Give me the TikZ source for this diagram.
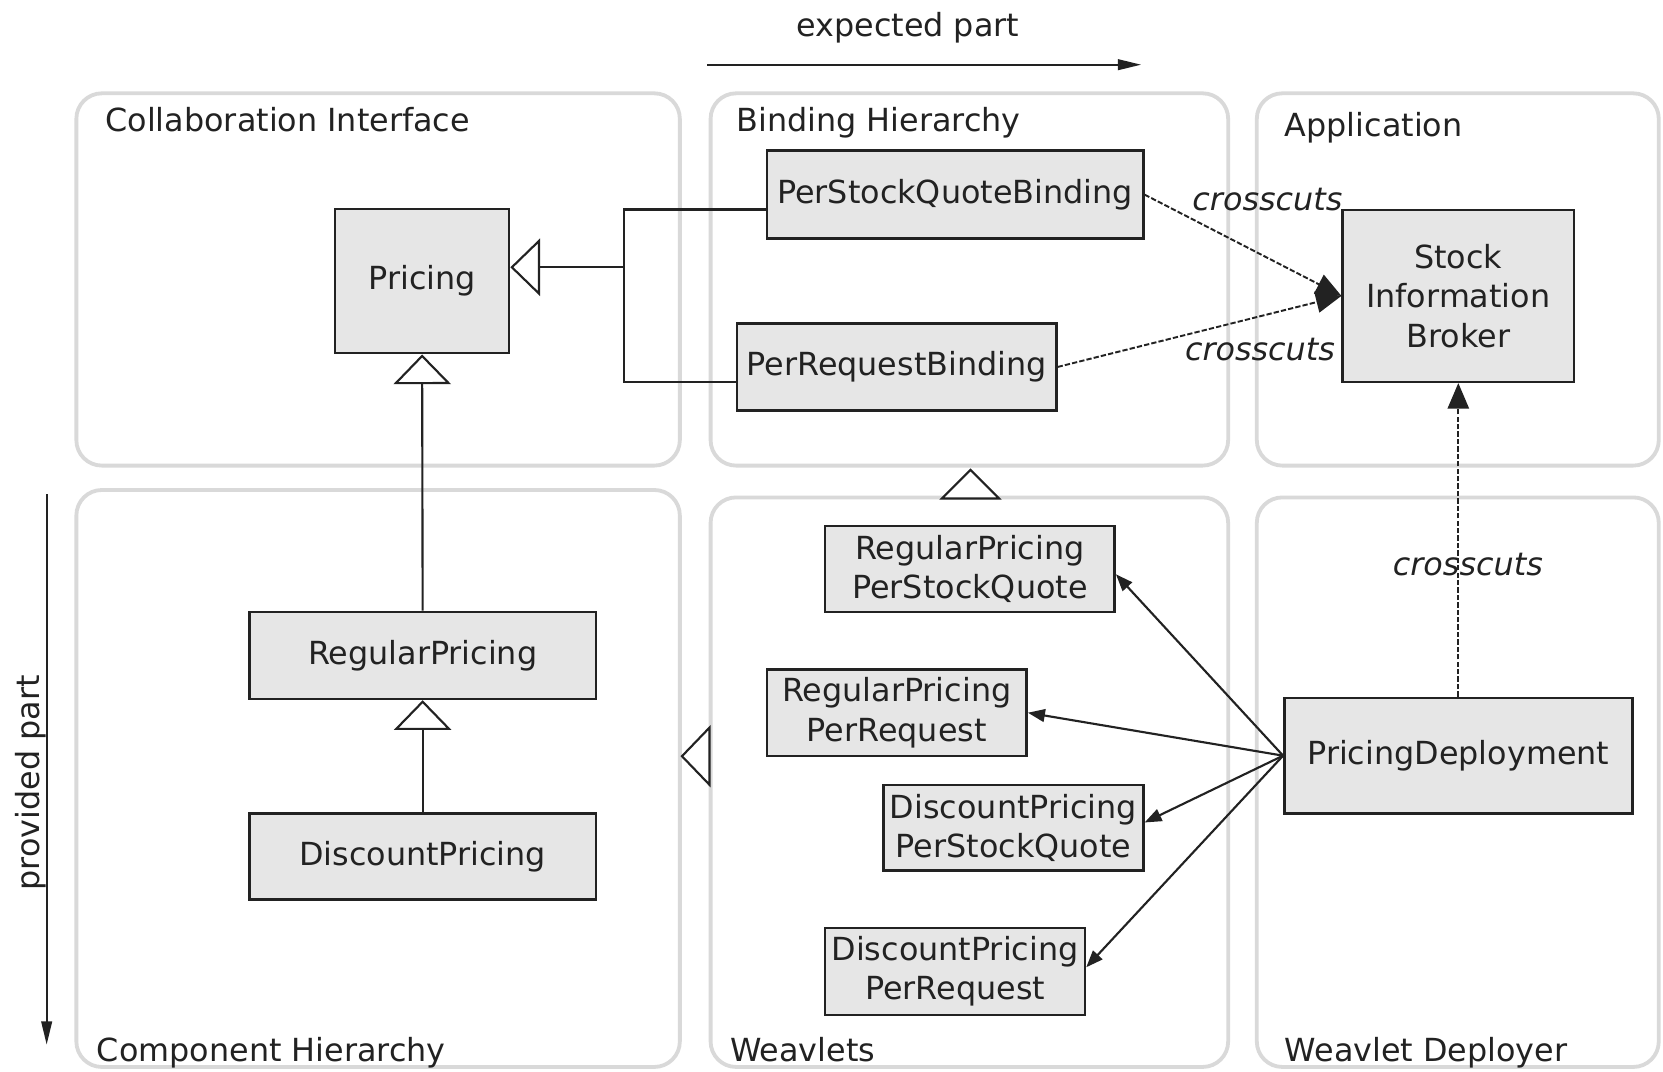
\documentclass[tikz,border=0pt]{standalone}
\usepackage{fontspec}
\setmainfont{DejaVu Sans}
\usetikzlibrary{arrows.meta,calc}

\definecolor{panelgray}{HTML}{D9D9D9}
\definecolor{boxfill}{HTML}{E6E6E6}
\definecolor{ink}{HTML}{222222}

\begin{document}
\begin{tikzpicture}[x=0.5pt,y=-0.5pt,
  font=\fontsize{15}{18.5}\selectfont, text=ink,
  panel/.style={draw=panelgray, line width=1.8pt, rounded corners=12pt},
  ptitle/.style={anchor=base west, inner sep=0pt},
  cls/.style={draw=ink, line width=1.2pt, fill=boxfill, inner sep=0pt, align=center},
  link/.style={draw=ink, line width=1pt},
  gen/.style={link, -{Triangle[open, length=14pt, width=27pt]}},
  hollow/.style={draw=ink, line width=1pt, fill=white, line join=miter},
  cross/.style={draw=ink, line width=0.9pt, dash pattern=on 2.5pt off 1pt,
                -{Triangle[length=12pt, width=10pt]}},
  dep/.style={link, -{Triangle[length=8pt, width=6pt]}},
  axis/.style={link, -{Triangle[length=11pt, width=5pt]}},
  clabel/.style={font=\fontsize{15}{18}\selectfont\itshape, inner sep=0pt},
]
% canvas
\useasboundingbox[fill=white] (0,0) rectangle (1568,1010);

% panels
\draw[panel] (72,88) rectangle (641,439);
\draw[panel] (670,88) rectangle (1158,439);
\draw[panel] (1185,88) rectangle (1564,439);
\draw[panel] (72,462) rectangle (641,1006);
\draw[panel] (670,469) rectangle (1158,1006);
\draw[panel] (1185,469) rectangle (1564,1006);

% panel titles
\node[ptitle] (tci) at (99,124) {Collaboration Interface};
\node[ptitle] (tbh) at (694,124) {Binding Hierarchy};
\node[ptitle] (tap) at (1211,129) {Application};
\node[ptitle] (tch) at (91,1001) {Component Hierarchy};
\node[ptitle] (twv) at (688,1001) {Weavlets};
\node[ptitle] (twd) at (1211,1001) {Weavlet Deployer};

% direction axes
\coordinate (ex0) at (667,61);
\coordinate (ex1) at (1076,61);
\draw[axis] (ex0) -- (ex1);
\node[anchor=base, inner sep=0pt] (lex) at (856,34) {expected part};

\coordinate (pv0) at (44,466);
\coordinate (pv1) at (44,985);
\draw[axis] (pv0) -- (pv1);
\node[rotate=90, anchor=base, inner sep=0pt] (lpv) at (37,738) {provided part};

% classes
\node[cls, minimum width=82pt, minimum height=68pt] (pricing) at (398,265) {Pricing};
\node[cls, minimum width=177.5pt, minimum height=41.5pt] (psqb) at (900.5,183.5) {PerStockQuoteBinding};
\node[cls, minimum width=150.5pt, minimum height=41pt] (prb) at (845.5,346) {PerRequestBinding};
\node[cls, minimum width=109pt, minimum height=81pt] (sib) at (1375,279) {Stock\\Information\\Broker};
\node[cls, minimum width=163.5pt, minimum height=41pt] (regular) at (398.5,618) {RegularPricing};
\node[cls, minimum width=163.5pt, minimum height=40.5pt] (discount) at (398.5,807.5) {DiscountPricing};
\node[cls, minimum width=136.5pt, minimum height=40.5pt] (rpsq) at (914.5,536.5) {RegularPricing\\PerStockQuote};
\node[cls, minimum width=122.5pt, minimum height=41pt] (rppr) at (845.5,672) {RegularPricing\\PerRequest};
\node[cls, minimum width=122.5pt, minimum height=40.5pt] (dpsq) at (955.5,780.5) {DiscountPricing\\PerStockQuote};
\node[cls, minimum width=122.5pt, minimum height=41pt] (dppr) at (900.5,916) {DiscountPricing\\PerRequest};
\node[cls, minimum width=164pt, minimum height=54.5pt] (pd) at (1375,712.5) {PricingDeployment};

% generalisation of the bindings into Pricing
\coordinate (jn) at (588,252);
\draw[link] ($(psqb.west)+(0,14)$) -| (jn);
\draw[link] ($(prb.west)+(0,14)$) -| (jn);
\draw[gen] (jn) -- (pricing.east |- jn);

% component hierarchy
\draw[gen] (regular.north) -- (pricing.south);
\draw[gen] (discount.north) -- (regular.south);

% weavlets extend both hierarchies
\draw[hollow] (915,443) -- (942,470) -- (888,470) -- cycle;
\draw[hollow] (643,713) -- (669,740) -- (669,686) -- cycle;

% crosscutting relations
\draw[cross] (psqb.east) -- (sib.west);
\draw[cross] (prb.east) -- (sib.west);
\draw[cross] (pd.north) -- (sib.south);
\node[clabel] (cc1) at (1195,188) {crosscuts};
\node[clabel] (cc2) at (1188,330) {crosscuts};
\node[clabel] (cc3) at (1384,532) {crosscuts};

% deployment of the weavlets
\draw[dep] (pd.west) -- ($(rpsq.east)+(0,5)$);
\draw[dep] (pd.west) -- (rppr.east);
\draw[dep] (pd.west) -- ($(dpsq.east)+(0,-5)$);
\draw[dep] (pd.west) -- ($(dppr.east)+(0,-4)$);
\end{tikzpicture}
\end{document}
